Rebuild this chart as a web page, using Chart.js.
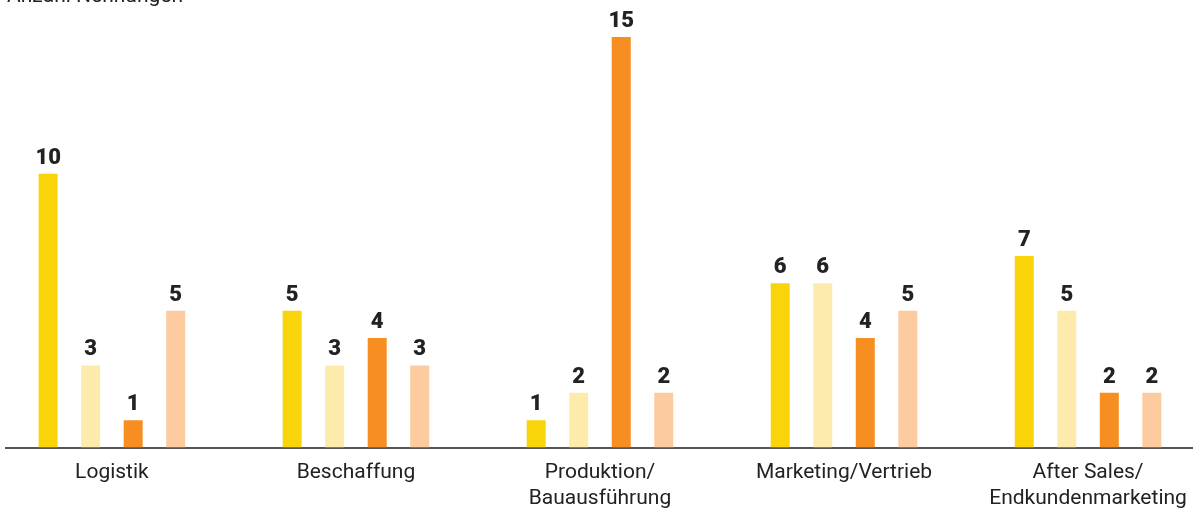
<!DOCTYPE html>
<html>
<head>
<meta charset="utf-8">
<script src="https://cdn.jsdelivr.net/npm/chart.js@4/dist/chart.umd.min.js"></script>
<style>
  html, body { margin: 0; padding: 0; background: #fff; }
  #wrap { width: 1201px; height: 512px; position: relative; }
</style>
</head>
<body>
<div id="wrap"><canvas id="BarChart"></canvas></div>
<script>
const categories = [
  ["Logistik"],
  ["Beschaffung"],
  ["Produktion/", "Bauausführung"],
  ["Marketing/Vertrieb"],
  ["After Sales/", "Endkundenmarketing"]
];
const series1 = [10, 5, 1, 6, 7];
const series2 = [3, 3, 2, 6, 5];
const series3 = [1, 4, 15, 4, 2];
const series4 = [5, 3, 2, 5, 2];
const axisTitle = "Anzahl Nennungen";

const colors = ["#FAD40A", "#FDEBAB", "#F68E22", "#FCCB9F"];

function points(values) {
  return values.map((v, i) => ({ x: i, y: v }));
}

// value labels above the bars
const valueLabels = {
  id: "valueLabels",
  afterDatasetsDraw(chart) {
    const ctx = chart.ctx;
    ctx.save();
    ctx.font = "900 22px Roboto";
    ctx.fillStyle = "#222";
    ctx.textAlign = "center";
    ctx.textBaseline = "alphabetic";
    chart.data.datasets.forEach((ds, di) => {
      chart.getDatasetMeta(di).data.forEach((bar, i) => {
        ctx.fillText(ds.data[i].y, bar.x, bar.y - 10);
      });
    });
    ctx.restore();
  }
};

// axis title in the top left corner
const cornerTitle = {
  id: "cornerTitle",
  afterDraw(chart) {
    const ctx = chart.ctx;
    ctx.save();
    ctx.font = "21px Roboto";
    ctx.fillStyle = "#222";
    ctx.textAlign = "left";
    ctx.textBaseline = "alphabetic";
    ctx.fillText(axisTitle, 7, 2);
    ctx.restore();
  }
};

const ctx = document.getElementById("BarChart").getContext("2d");
new Chart(ctx, {
  type: "bar",
  data: {
    datasets: [series1, series2, series3, series4].map((s, i) => ({
      label: "Serie " + (i + 1),
      data: points(s),
      backgroundColor: colors[i],
      borderWidth: 0,
      categoryPercentage: 0.697,
      barPercentage: 0.447
    }))
  },
  options: {
    responsive: true,
    maintainAspectRatio: false,
    animation: false,
    layout: { padding: { left: 6, right: 9, top: 0, bottom: 0 } },
    plugins: {
      legend: { display: false },
      tooltip: { enabled: false }
    },
    scales: {
      x: {
        type: "linear",
        bounds: "data",
        offset: false,
        min: -0.434,
        max: 4.426,
        grid: { display: false, drawTicks: false, offset: false },
        border: { display: true, color: "#555", width: 2 },
        afterBuildTicks(scale) {
          scale.ticks = categories.map((c, i) => ({ value: i }));
        },
        afterFit(scale) { scale.height = 512 - 447.5; },
        ticks: {
          autoSkip: false,
          maxRotation: 0,
          padding: 12,
          color: "#222",
          font: { family: "Roboto", size: 21, lineHeight: 1.24 },
          callback: (v) => Number.isInteger(v) && categories[v] ? categories[v] : ""
        }
      },
      y: {
        display: false,
        min: 0,
        max: 16.35
      }
    }
  },
  plugins: [valueLabels, cornerTitle]
});
</script>
</body>
</html>
